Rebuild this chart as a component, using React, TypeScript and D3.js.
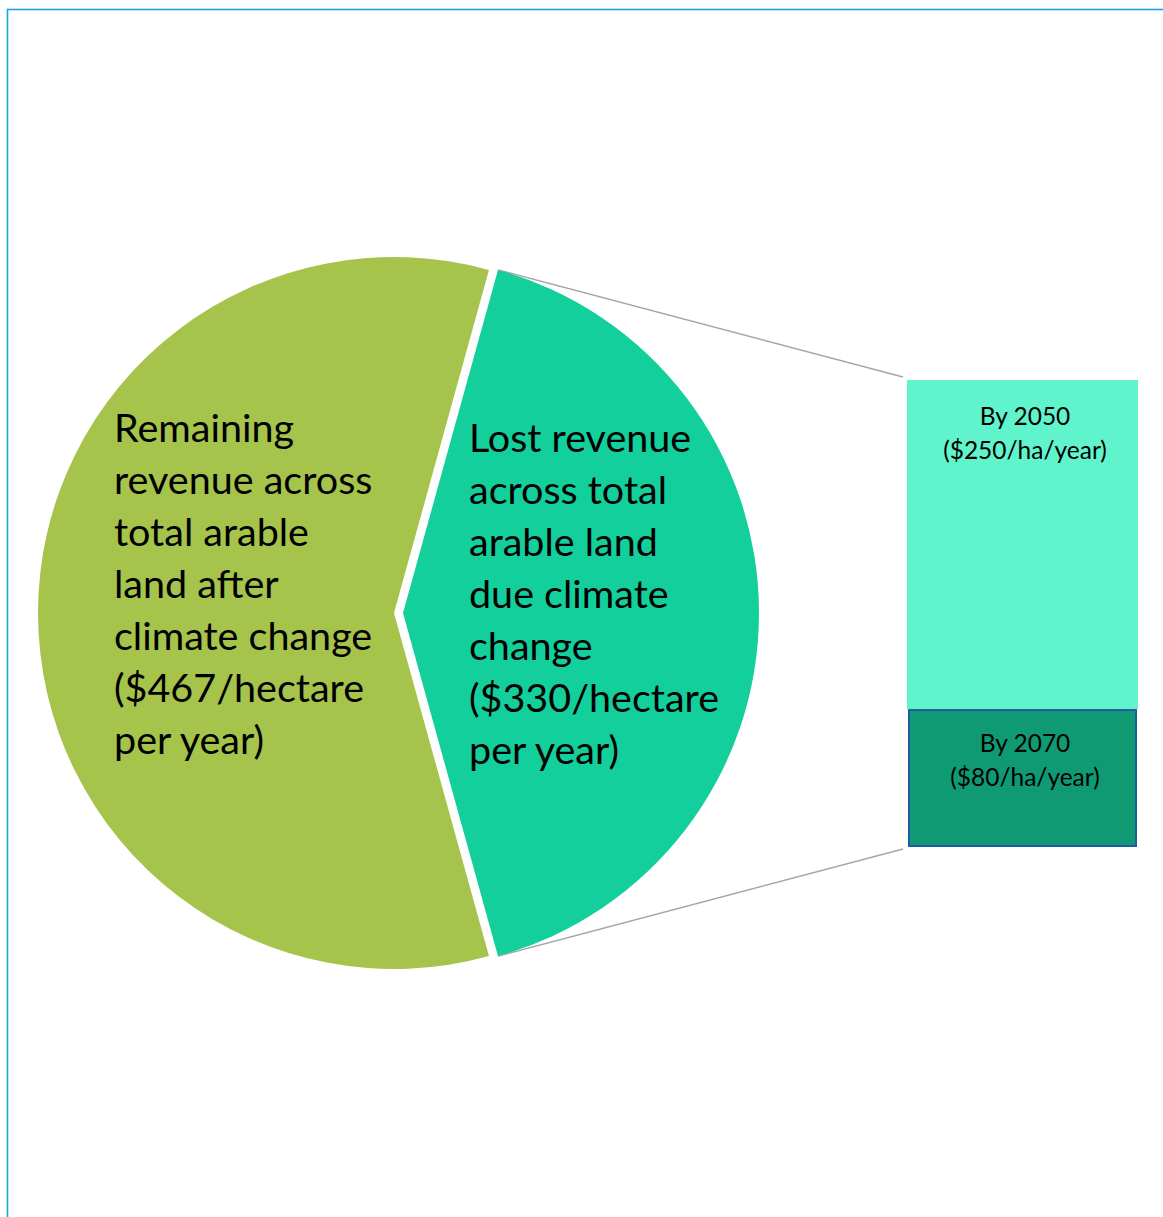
import React from "react";
import * as d3 from "d3";

const pieCategories = ["Lost revenue", "Remaining revenue"];
const pieValues = [330, 467];
const pieLabels = [
  ["Lost revenue", "across total", "arable land", "due climate", "change", "($330/hectare", "per year)"],
  ["Remaining", "revenue across", "total arable", "land after", "climate change", "($467/hectare", "per year)"],
];
const pieColors = ["#13cf9b", "#a6c34b"];

const barCategories = ["By 2050", "By 2070"];
const barValues = [233, 97];
const barLabels = ["($250/ha/year)", "($80/ha/year)"];
const barColors = ["#5ff4cc", "#109a74"];

const W = 1163;
const H = 1217;
const FONT = "Lato, 'Open Sans', sans-serif";

export default function App() {
  const cx = 394;
  const cy = 613;
  const r = 356;
  const explode = 9;

  const lostAngle = (2 * Math.PI * pieValues[0]) / d3.sum(pieValues);
  const start = Math.PI / 2 - lostAngle / 2;
  const pie = d3
    .pie<number>()
    .sort(null)
    .startAngle(start)
    .endAngle(start + 2 * Math.PI);
  const arcs = pie(pieValues);
  const arcGen = d3.arc<d3.PieArcDatum<number>>().innerRadius(0).outerRadius(r);

  const barX0 = 907;
  const barX1 = 1138;
  const total = d3.sum(barValues);
  const y = d3.scaleLinear().domain([0, total]).range([846, 380]);
  const stackOrder = [1, 0];
  let acc = 0;
  const segs = stackOrder.map((i) => {
    const s = { i, y0: acc, y1: acc + barValues[i] };
    acc += barValues[i];
    return s;
  });

  const lostArc = arcs[0];
  const lostCx = cx + explode;
  const topPt = [lostCx + r * Math.sin(lostArc.startAngle), cy - r * Math.cos(lostArc.startAngle)];
  const botPt = [lostCx + r * Math.sin(lostArc.endAngle), cy - r * Math.cos(lostArc.endAngle)];

  const textPos = [
    { x: 469, y: 436 },
    { x: 114, y: 426 },
  ];
  const labelX = 1025;

  return (
    <svg
      width={W}
      height={H}
      style={{ position: "absolute", left: 0, top: 0, background: "#fff" }}
      fontFamily={FONT}
    >
      <rect x={7.5} y={9.5} width={W + 20} height={H + 20} fill="none" stroke="#1aa7e0" strokeWidth={1.6} />

      <line x1={topPt[0]} y1={topPt[1]} x2={903} y2={377} stroke="#a6a6a6" strokeWidth={1.5} />
      <line x1={botPt[0]} y1={botPt[1]} x2={903} y2={849} stroke="#a6a6a6" strokeWidth={1.5} />

      {arcs.map((a, i) => (
        <path
          key={pieCategories[i]}
          d={arcGen(a) || ""}
          transform={`translate(${i === 0 ? cx + explode : cx},${cy})`}
          fill={pieColors[i]}
        />
      ))}

      {pieLabels.map((lines, i) => (
        <text key={i} fontSize={39.5} fill="#000">
          {lines.map((ln, j) => (
            <tspan key={j} x={textPos[i].x} y={textPos[i].y + j * 52} dominantBaseline="central">
              {ln}
            </tspan>
          ))}
        </text>
      ))}

      {segs.map((s) => {
        const isBottom = s.i === 1;
        const yTop = y(s.y1);
        const yBot = y(s.y0);
        const off = isBottom ? 33 : 35;
        return (
          <g key={barCategories[s.i]}>
            {isBottom ? (
              <rect
                x={barX0 + 2}
                y={yTop + 1}
                width={barX1 - barX0 - 4}
                height={yBot - yTop - 1}
                fill={barColors[s.i]}
                stroke="#1f5c9e"
                strokeWidth={2}
              />
            ) : (
              <rect x={barX0} y={yTop} width={barX1 - barX0} height={yBot - yTop} fill={barColors[s.i]} />
            )}
            <text textAnchor="middle" fontSize={24.5} fill="#000">
              <tspan x={labelX} y={yTop + off} dominantBaseline="central">
                {barCategories[s.i]}
              </tspan>
              <tspan x={labelX} y={yTop + off + 34} dominantBaseline="central">
                {barLabels[s.i]}
              </tspan>
            </text>
          </g>
        );
      })}
    </svg>
  );
}
